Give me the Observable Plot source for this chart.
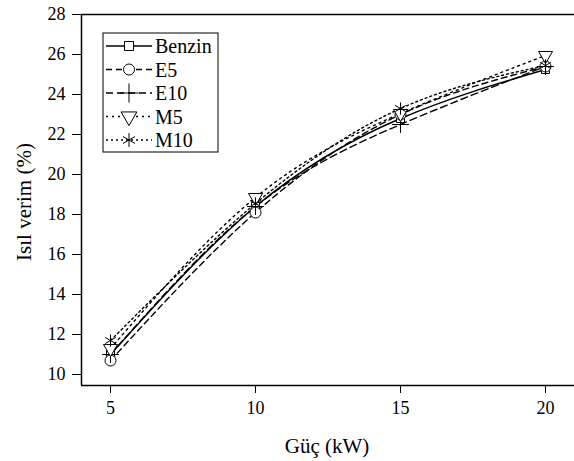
<!DOCTYPE html>
<html>
<head>
<meta charset="utf-8">
<script src="https://cdn.jsdelivr.net/npm/d3@7"></script>
<script src="https://cdn.jsdelivr.net/npm/@observablehq/plot@0.6"></script>
<style>
  html, body { margin: 0; padding: 0; background: #fff; }
  #chart svg { display: block; }
  #chart svg text { font-family: "Liberation Serif" !important; }
</style>
</head>
<body>
<div id="chart"></div>
<script>
const power = [5, 10, 15, 20];
const seriesNames = ["Benzin", "E5", "E10", "M5", "M10"];
const benzin = [11.0, 18.4, 22.8, 25.25];
const e5 = [10.7, 18.1, 23.0, 25.4];
const e10 = [11.0, 18.4, 22.5, 25.4];
const m5 = [11.3, 18.85, 23.05, 25.95];
const m10 = [11.7, 18.55, 23.3, 25.45];
const yTicks = [10, 12, 14, 16, 18, 20, 22, 24, 26, 28];
const xTicks = [5, 10, 15, 20];

const values = {Benzin: benzin, E5: e5, E10: e10, M5: m5, M10: m10};
const style = {
  Benzin: {dash: null, symbol: "square", r: 4.5, rotate: 0},
  E5: {dash: "6,4", symbol: "circle", r: 5.5, rotate: 0},
  E10: {dash: "7,4", symbol: "plus", r: 5.5, rotate: 0},
  M5: {dash: "2,4", symbol: "triangle", r: 5.2, rotate: 180},
  M10: {dash: "2,3", symbol: "asterisk", r: 5.8, rotate: 0}
};
const rows = seriesNames.flatMap(s => power.map((p, i) => ({series: s, x: p, y: values[s][i]})));

const font = "Liberation Serif";
const marks = [
  Plot.ruleY([28], {stroke: "black", strokeWidth: 1.5}),
  Plot.ruleY([9.45], {stroke: "black", strokeWidth: 1.5}),
  Plot.ruleX([4], {stroke: "black", strokeWidth: 1.5}),
  Plot.axisY({ticks: yTicks, tickSize: 9, tickPadding: 7, fontSize: 18, fontFamily: font, label: null, stroke: "black"}),
  Plot.axisX({ticks: xTicks, tickSize: 8, tickPadding: 8, fontSize: 18, fontFamily: font, label: null, stroke: "black"})
];
for (const s of seriesNames) {
  const d = rows.filter(r => r.series === s);
  marks.push(Plot.line(d, {x: "x", y: "y", curve: "natural", stroke: "black", strokeWidth: 1.4, strokeDasharray: style[s].dash}));
}
for (const s of seriesNames) {
  const d = rows.filter(r => r.series === s);
  const st = style[s];
  marks.push(Plot.dot(d, {x: "x", y: "y", symbol: () => st.symbol, r: st.r, rotate: st.rotate,
    stroke: "black", strokeWidth: 1, fill: st.symbol === "plus" || st.symbol === "asterisk" ? "none" : "white"}));
}

const chart = Plot.plot({
  width: 574,
  height: 461,
  marginLeft: 81,
  marginRight: 0,
  marginTop: 14,
  marginBottom: 76,
  style: {fontSize: "18px", fontFamily: font, color: "black", background: "white"},
  x: {domain: [4, 21], label: null},
  y: {domain: [9.45, 28], label: null},
  marks
});

const svg = d3.select(chart);
svg.attr("font-family", font);
svg.append("text").attr("x", 327).attr("y", 453).attr("text-anchor", "middle")
  .attr("font-size", 21).attr("fill", "black").text("Güç (kW)");
svg.append("text").attr("transform", "translate(31,202) rotate(-90)").attr("text-anchor", "middle")
  .attr("font-size", 21).attr("fill", "black").text("Isıl verim (%)");

// Legend
const lg = svg.append("g").attr("transform", "translate(103,33)");
lg.append("rect").attr("x", 0).attr("y", 0).attr("width", 115).attr("height", 119)
  .attr("fill", "white").attr("stroke", "black").attr("stroke-width", 1);
seriesNames.forEach((s, i) => {
  const y = 13 + i * 23.5;
  const st = style[s];
  lg.append("line").attr("x1", 3).attr("x2", 49).attr("y1", y).attr("y2", y)
    .attr("stroke", "black").attr("stroke-width", 1.4).attr("stroke-dasharray", st.dash);
  const sym = {square: d3.symbolSquare, circle: d3.symbolCircle, plus: d3.symbolPlus, triangle: d3.symbolTriangle, asterisk: d3.symbolAsterisk}[st.symbol];
  const size = st.symbol === "circle" ? Math.PI * st.r * st.r : (st.symbol === "square" ? 81 : st.r * st.r * 4);
  lg.append("path").attr("d", d3.symbol(sym, size)())
    .attr("transform", `translate(26,${y}) rotate(${st.rotate})`)
    .attr("fill", st.symbol === "plus" || st.symbol === "asterisk" ? "none" : "white")
    .attr("stroke", "black").attr("stroke-width", 1);
  lg.append("text").attr("x", 52).attr("y", y).attr("dy", "0.35em").attr("text-anchor", "start")
    .attr("font-size", 20).attr("fill", "black").text(s);
});

svg.selectAll("text").style("font-family", font);

document.getElementById("chart").appendChild(chart);
</script>
</body>
</html>
